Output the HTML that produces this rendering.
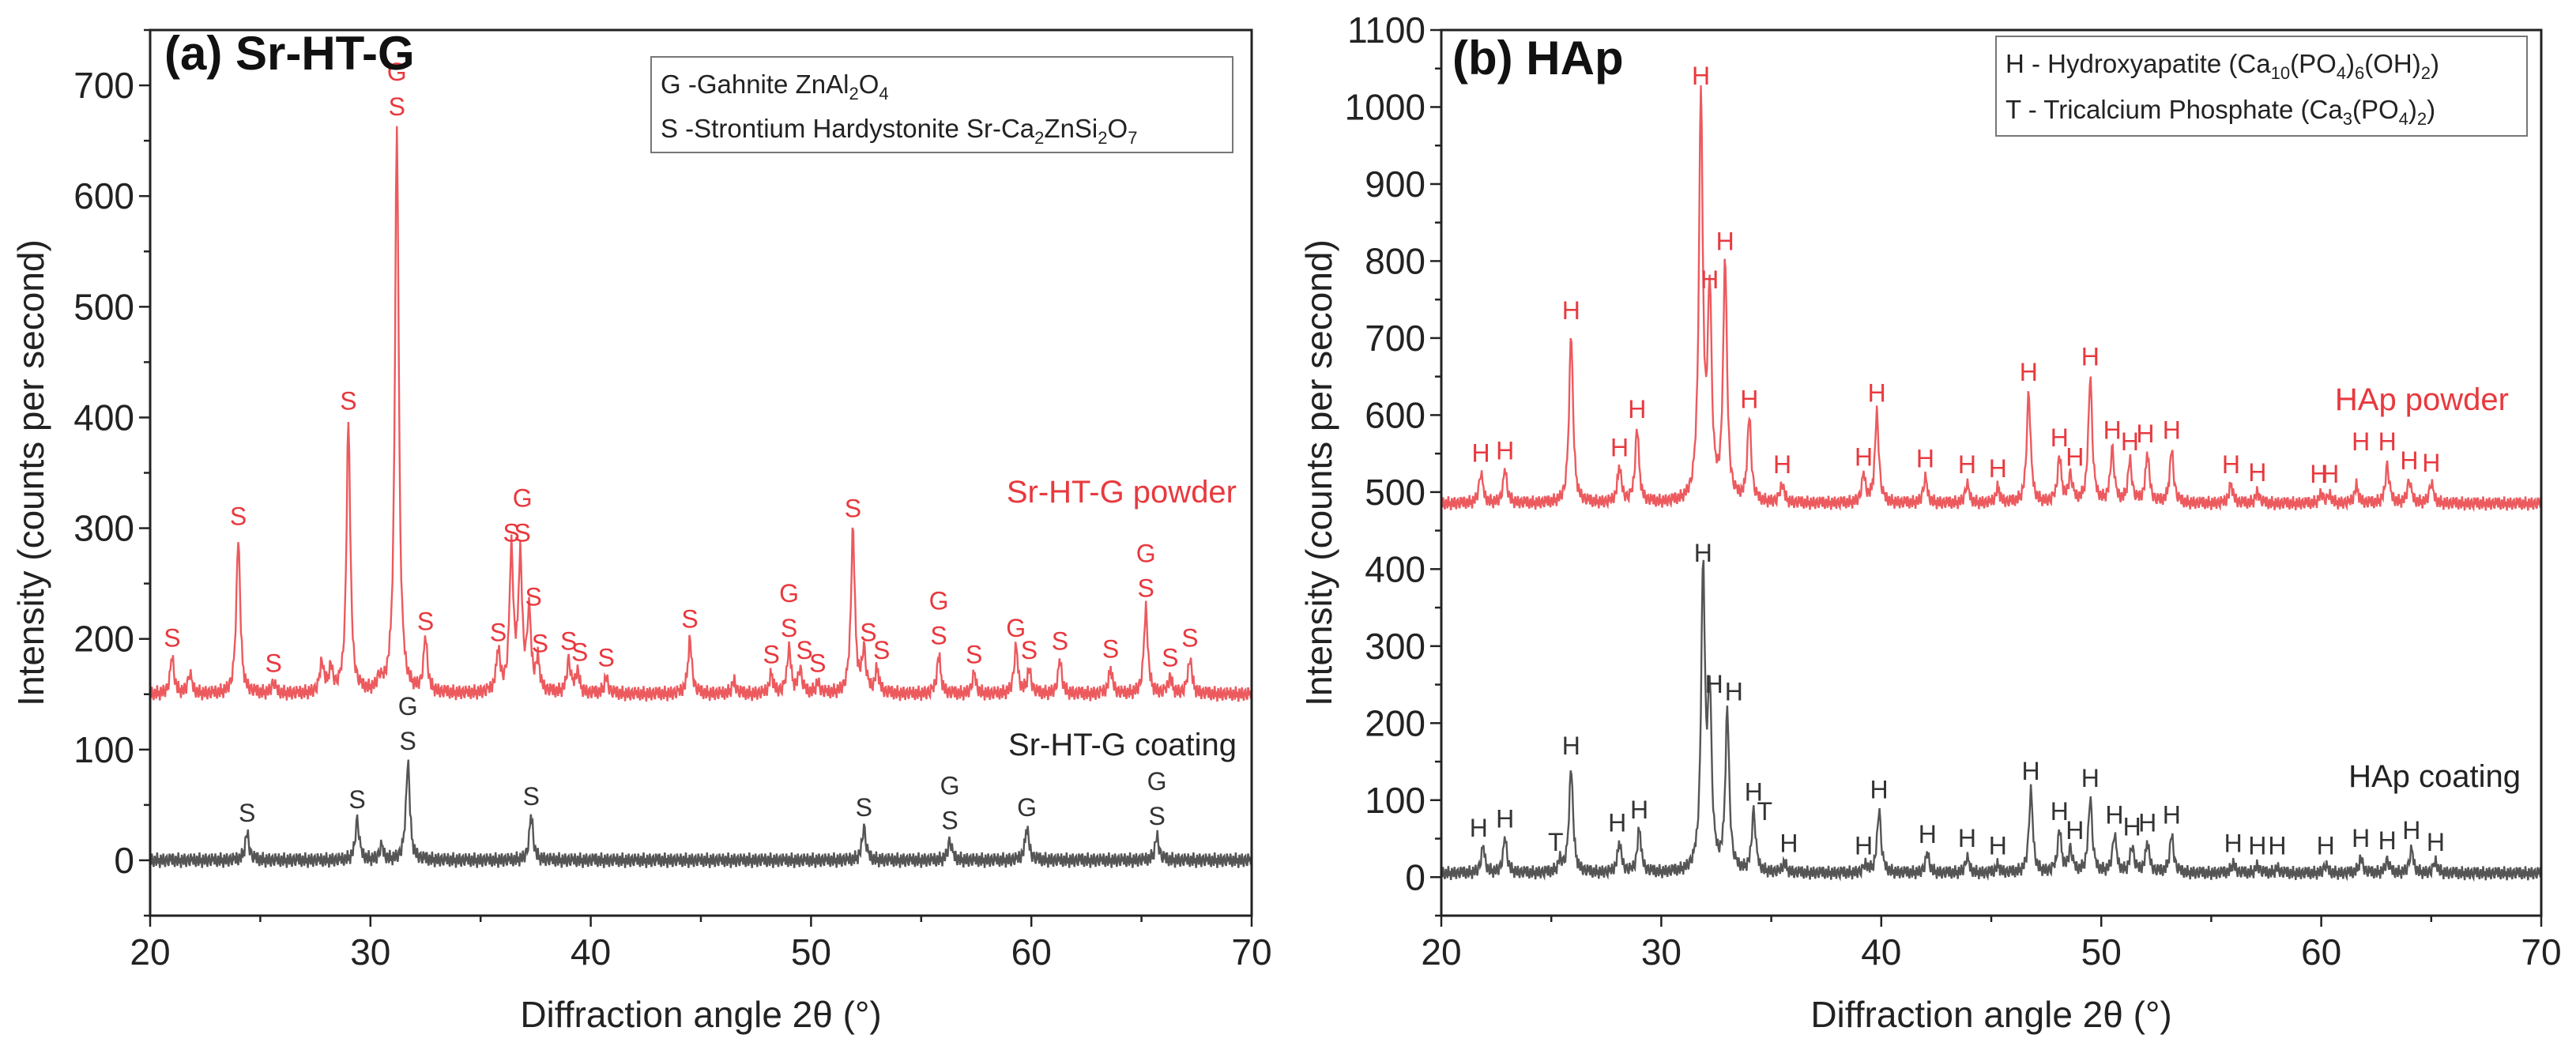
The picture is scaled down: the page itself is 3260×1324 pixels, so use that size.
<!DOCTYPE html>
<html><head><meta charset="utf-8"><style>
body{margin:0;background:#fff;}
svg text{font-family:"Liberation Sans",sans-serif;}
</style></head><body>
<svg id="chart" width="3260" height="1319" viewBox="0 0 3260 1319" xmlns="http://www.w3.org/2000/svg"></svg>
<script>
// ---- Panel A data ----
const aPowderPos = [21.0,21.8,24.0,25.6,27.8,28.2,29.0,30.4,31.2,32.5,35.8,36.4,36.8,37.2,37.6,39.0,39.4,40.7,44.5,46.5,48.2,49.0,49.5,50.3,51.9,52.4,53.0,55.8,57.4,59.3,59.9,61.3,63.6,65.2,66.3,67.2];
const aPowderInt = [183,168,293,160,178,172,397,160,663,198,188,278,270,220,178,180,170,165,200,162,168,192,172,160,300,188,172,185,168,192,172,180,173,228,165,183];
const aPowderBase = 150;
const aCoatPos = [24.4,29.4,30.5,31.7,37.3,52.4,56.3,59.8,65.7];
const aCoatInt = [25,37,12,90,40,30,18,30,22];
const aCoatBase = 0;
const aPowderLabels = [[21.0,"S",183],[24.0,"S",293],[25.6,"S",160],[29.0,"S",397],[31.2,"S",663],[31.2,"G",663,1],[32.5,"S",198],[35.8,"S",188],[36.4,"S",278],[36.9,"S",278],[36.9,"G",278,1],[37.4,"S",220],[37.7,"S",178],[39.0,"S",180],[39.5,"S",170],[40.7,"S",165],[44.5,"S",200],[48.2,"S",168],[49.0,"S",192],[49.0,"G",192,1],[49.7,"S",172],[50.3,"S",160],[51.9,"S",300],[52.6,"S",188],[53.2,"S",172],[55.8,"S",185],[55.8,"G",185,1],[57.4,"S",168],[59.3,"G",192],[59.9,"S",172],[61.3,"S",180],[63.6,"S",173],[65.2,"S",228],[65.2,"G",228,1],[66.3,"S",165],[67.2,"S",183]];
const aCoatLabels = [[24.4,"S",25],[29.4,"S",37],[31.7,"S",90],[31.7,"G",90,1],[37.3,"S",40],[52.4,"S",30],[56.3,"S",18],[56.3,"G",18,1],[59.8,"G",30],[65.7,"S",22],[65.7,"G",22,1]];
// ---- Panel B data ----
const bPowderPos = [21.8,22.9,25.9,28.1,28.9,31.8,32.2,32.9,34.0,35.5,39.2,39.8,42.0,43.9,45.3,46.7,48.1,48.6,49.5,50.5,51.3,52.1,53.2,55.9,57.1,60.0,60.4,61.6,63.0,64.0,65.0];
const bPowderInt = [525,528,710,532,582,1015,750,800,595,510,520,603,518,510,505,630,545,520,650,555,540,550,555,510,500,498,495,508,535,515,512];
const bPowderBase = 485;
const bCoatPos = [21.9,22.9,25.4,25.9,28.1,29.0,31.9,32.2,33.0,34.2,35.6,39.3,39.9,42.1,43.9,45.3,46.8,48.1,48.6,49.5,50.6,51.4,52.1,53.2,56.0,57.1,58.0,60.2,61.8,63.0,64.1,65.2];
const bCoatInt = [38,50,20,145,45,62,395,225,215,85,18,15,88,30,25,15,112,60,35,103,55,40,45,55,18,15,12,15,25,22,35,20];
const bCoatBase = 5;
const bPowderLabels = [[21.8,"H",525],[22.9,"H",528],[25.9,"H",710],[28.1,"H",532],[28.9,"H",582],[31.8,"H",1015],[32.2,"H",750],[32.9,"H",800],[34.0,"H",595],[35.5,"H",510],[39.2,"H",520],[39.8,"H",603],[42.0,"H",518],[43.9,"H",510],[45.3,"H",505],[46.7,"H",630],[48.1,"H",545],[48.8,"H",520],[49.5,"H",650],[50.5,"H",555],[51.3,"H",540],[52.0,"H",550],[53.2,"H",555],[55.9,"H",510],[57.1,"H",500],[59.9,"H",498],[60.4,"H",498],[61.8,"H",540],[63.0,"H",540],[64.0,"H",515],[65.0,"H",512]];
const bCoatLabels = [[21.7,"H",38],[22.9,"H",50],[25.2,"T",20],[25.9,"H",145],[28.0,"H",45],[29.0,"H",62],[31.9,"H",395],[32.4,"H",225],[33.3,"H",215],[34.2,"H",85],[34.7,"T",60],[35.8,"H",18],[39.2,"H",15],[39.9,"H",88],[42.1,"H",30],[43.9,"H",25],[45.3,"H",15],[46.8,"H",112],[48.1,"H",60],[48.8,"H",35],[49.5,"H",103],[50.6,"H",55],[51.4,"H",40],[52.1,"H",45],[53.2,"H",55],[56.0,"H",18],[57.1,"H",15],[58.0,"H",15],[60.2,"H",15],[61.8,"H",25],[63.0,"H",22],[64.1,"H",35],[65.2,"H",20]];
const ripple = [3,-4,6,-2,-6,4,1,-5,7,-3,2,-7,5,0,-4,6,-1,-6,3,4,-3,-5,6,1];
const xTicks = [20,30,40,50,60,70];
const aYTicks = [0,100,200,300,400,500,600,700];
const bYTicks = [0,100,200,300,400,500,600,700,800,900,1000,1100];

const NS="http://www.w3.org/2000/svg";
const svg=document.getElementById('chart');
function mk(tag,attrs,parent){const e=document.createElementNS(NS,tag);for(const k in attrs)e.setAttribute(k,attrs[k]);(parent||svg).appendChild(e);return e;}

function panel(cfg){
  const g=mk('g',{});
  
  
  const X=v=>cfg.x0+(v-20)/50*(cfg.x1-cfg.x0);
  const Y=v=>cfg.y1-(v-cfg.ymin)/(cfg.ymax-cfg.ymin)*(cfg.y1-cfg.y0);
  function curve(pos,ints,base,ripAmp,color,name,width){
    let d='';let i=0;
    for(let t=20;t<=70.001;t+=0.04,i++){
      let v=base+ripple[i%ripple.length]*ripAmp;
      for(let k=0;k<pos.length;k++){const w=0.13;const dx=(t-pos[k])/w;v+=(ints[k]-base)/(1+dx*dx*1.6);}
      d+=(i?'L':'M')+X(t).toFixed(1)+','+Y(v).toFixed(1);
    }
    const p=mk('path',{d:d,fill:'none',stroke:color,'stroke-width':width},g);
    
    
  }
  curve(cfg.pPos,cfg.pInt,cfg.pBase,cfg.rip,'#ec5a5e',cfg.prefix+'-powder-line',2.4);
  curve(cfg.cPos,cfg.cInt,cfg.cBase,cfg.rip,'#555555',cfg.prefix+'-coating-line',2.4);
  function labels(arr,color,name){
    arr.forEach(l=>{
      const yy=Y(l[2])-14-(l[3]?44:0);
      const t=mk('text',{x:X(l[0]),y:yy,'font-size':32,'text-anchor':'middle',fill:color},g);
      t.textContent=l[1];
      
      
    });
  }
  labels(cfg.pLab,'#e8393e',cfg.prefix+'-powder-peak-label');
  labels(cfg.cLab,'#333',cfg.prefix+'-coating-peak-label');
  // frame
  const fr=mk('rect',{x:cfg.x0,y:cfg.y0,width:cfg.x1-cfg.x0,height:cfg.y1-cfg.y0,fill:'none',stroke:'#222','stroke-width':3},g);
  
  
  // x ticks
  for(let v=20;v<=70;v+=5){
    mk('line',{x1:X(v),x2:X(v),y1:cfg.y1,y2:cfg.y1+(v%10?8:14),stroke:'#222','stroke-width':2.5},g);
  }
  xTicks.forEach(v=>{
    const t=mk('text',{x:X(v),y:cfg.y1+62,'font-size':46,'text-anchor':'middle',fill:'#222'},g);
    t.textContent=v;
    
    
  });
  for(let v=cfg.ymin;v<=cfg.ymax;v+=50){
    mk('line',{x1:cfg.x0,x2:cfg.x0-(v%100?8:14),y1:Y(v),y2:Y(v),stroke:'#222','stroke-width':2.5},g);
  }
  cfg.yTicks.forEach(v=>{
    const t=mk('text',{x:cfg.x0-20,y:Y(v)+16,'font-size':46,'text-anchor':'end',fill:'#222'},g);
    t.textContent=v;
    
    
  });
  const xt=mk('text',{x:(cfg.x0+cfg.x1)/2,y:1300,'font-size':46,'text-anchor':'middle',fill:'#222'},g);
  xt.textContent='Diffraction angle 2θ (°)';
  
  
  const yt=mk('text',{x:0,y:0,'font-size':46,'text-anchor':'middle',fill:'#222',transform:`translate(${cfg.ytx},${(cfg.y0+cfg.y1)/2}) rotate(-90)`},g);
  yt.textContent='Intensity (counts per second)';
  
  
  return {X,Y,g};
}

panel({name:'panel-a',prefix:'a',x0:190,x1:1584,y0:38,y1:1159,ymin:-50,ymax:750,yTicks:aYTicks,ytx:55,rip:1,
  pPos:aPowderPos,pInt:aPowderInt,pBase:aPowderBase,cPos:aCoatPos,cInt:aCoatInt,cBase:aCoatBase,pLab:aPowderLabels,cLab:aCoatLabels});
panel({name:'panel-b',prefix:'b',x0:1824,x1:3216,y0:38,y1:1159,ymin:-50,ymax:1100,yTicks:bYTicks,ytx:1685,rip:1.3,
  pPos:bPowderPos,pInt:bPowderInt,pBase:bPowderBase,cPos:bCoatPos,cInt:bCoatInt,cBase:bCoatBase,pLab:bPowderLabels,cLab:bCoatLabels});
</script>
<svg width="3260" height="1319" style="position:absolute;left:0;top:0" xmlns="http://www.w3.org/2000/svg">
  <text x="208" y="88" font-size="60" font-weight="bold" fill="#111">(a) Sr-HT-G</text>
  <text x="1838" y="94" font-size="60" font-weight="bold" fill="#111">(b) HAp</text>
  <g>
    <rect x="824" y="72" width="736" height="121" fill="#fff" stroke="#777" stroke-width="2"/>
    <text x="836" y="118" font-size="33" fill="#222">G -Gahnite ZnAl<tspan font-size="22" dy="8">2</tspan><tspan dy="-8">O</tspan><tspan font-size="22" dy="8">4</tspan></text>
    <text x="836" y="174" font-size="33" fill="#222">S -Strontium Hardystonite Sr-Ca<tspan font-size="22" dy="8">2</tspan><tspan dy="-8">ZnSi</tspan><tspan font-size="22" dy="8">2</tspan><tspan dy="-8">O</tspan><tspan font-size="22" dy="8">7</tspan></text>
  </g>
  <g>
    <rect x="2526" y="46" width="672" height="126" fill="#fff" stroke="#777" stroke-width="2"/>
    <text x="2538" y="92" font-size="33" fill="#222">H - Hydroxyapatite (Ca<tspan font-size="22" dy="8">10</tspan><tspan dy="-8">(PO</tspan><tspan font-size="22" dy="8">4</tspan><tspan dy="-8">)</tspan><tspan font-size="22" dy="8">6</tspan><tspan dy="-8">(OH)</tspan><tspan font-size="22" dy="8">2</tspan><tspan dy="-8">)</tspan></text>
    <text x="2538" y="150" font-size="33" fill="#222">T - Tricalcium Phosphate (Ca<tspan font-size="22" dy="8">3</tspan><tspan dy="-8">(PO</tspan><tspan font-size="22" dy="8">4</tspan><tspan dy="-8">)</tspan><tspan font-size="22" dy="8">2</tspan><tspan dy="-8">)</tspan></text>
  </g>
  <text x="1565" y="636" font-size="40" text-anchor="end" fill="#e8393e">Sr-HT-G powder</text>
  <text x="1565" y="956" font-size="40" text-anchor="end" fill="#222">Sr-HT-G coating</text>
  <text x="3175" y="519" font-size="40" text-anchor="end" fill="#e8393e">HAp powder</text>
  <text x="3190" y="996" font-size="40" text-anchor="end" fill="#222">HAp coating</text>
</svg>
</body></html>
